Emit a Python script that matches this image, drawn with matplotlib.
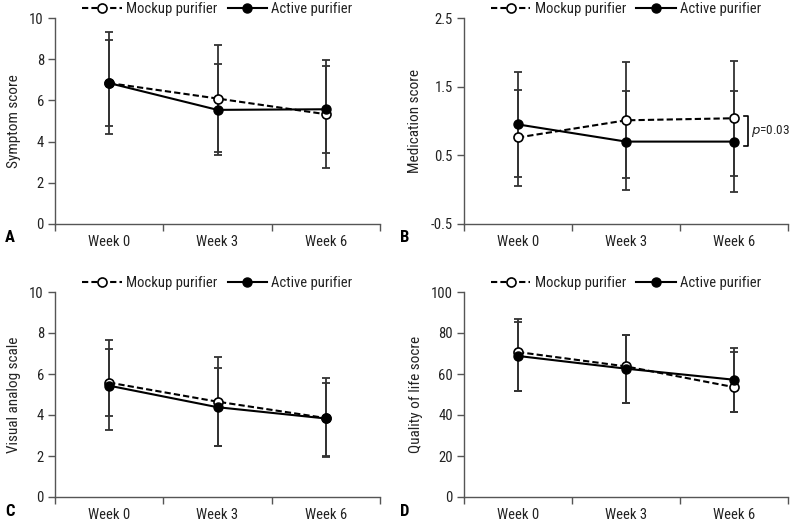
import matplotlib
matplotlib.use("Agg")
import matplotlib.pyplot as plt
from matplotlib import font_manager as fm

# pick a narrow font if one is installed
fam = "DejaVu Sans"
for f in ["Liberation Sans Narrow", "Roboto Condensed", "Open Sans Condensed", "Liberation Sans"]:
    try:
        fm.findfont(f, fallback_to_default=False)
        fam = f
        break
    except Exception:
        pass
plt.rcParams["font.family"] = [fam, "DejaVu Sans"]

weeks = ["Week 0", "Week 3", "Week 6"]

# A - symptom score
A_mock = [6.84, 6.09, 5.33]
A_mock_lo = [4.38, 3.51, 2.72]
A_mock_hi = [9.30, 8.67, 7.97]
A_act = [6.84, 5.54, 5.57]
A_act_lo = [4.76, 3.37, 3.47]
A_act_hi = [8.95, 7.76, 7.65]

# B - medication score
B_mock = [0.76, 1.01, 1.04]
B_mock_lo = [0.06, 0.17, 0.20]
B_mock_hi = [1.45, 1.86, 1.88]
B_act = [0.95, 0.70, 0.70]
B_act_lo = [0.18, -0.01, -0.03]
B_act_hi = [1.72, 1.43, 1.43]

# C - visual analog scale
C_mock = [5.58, 4.65, 3.85]
C_mock_lo = [3.97, 2.50, 1.94]
C_mock_hi = [7.20, 6.84, 5.80]
C_act = [5.43, 4.38, 3.83]
C_act_lo = [3.27, 2.50, 2.01]
C_act_hi = [7.65, 6.27, 5.58]

# D - quality of life
D_mock = [70.7, 63.7, 53.6]
D_mock_lo = [51.5, 46.0, 41.5]
D_mock_hi = [87.0, 79.2, 70.5]
D_act = [68.8, 62.6, 57.2]
D_act_lo = [51.5, 46.0, 41.5]
D_act_hi = [85.4, 79.2, 72.7]

panels = [
    ("A", "Symptom score", [0, 2, 4, 6, 8, 10], (A_mock, A_mock_lo, A_mock_hi), (A_act, A_act_lo, A_act_hi)),
    ("B", "Medication score", [-0.5, 0.5, 1.5, 2.5], (B_mock, B_mock_lo, B_mock_hi), (B_act, B_act_lo, B_act_hi)),
    ("C", "Visual analog scale", [0, 2, 4, 6, 8, 10], (C_mock, C_mock_lo, C_mock_hi), (C_act, C_act_lo, C_act_hi)),
    ("D", "Quality of life socre", [0, 20, 40, 60, 80, 100], (D_mock, D_mock_lo, D_mock_hi), (D_act, D_act_lo, D_act_hi)),
]

W, H = 792, 521
fig = plt.figure(figsize=(W / 100, H / 100), dpi=100)

# axes boxes in pixels: left, top, right, bottom
boxes = [(55, 18, 380, 224), (464, 18, 788, 224), (55, 292, 380, 497), (464, 292, 788, 497)]
letter_x = [5, 400, 5, 400]

txt = "#222222"
spine_c = "#555555"
x = range(len(weeks))

for (letter, ylab, yt, mock, act), (l, t, r, b), lx in zip(panels, boxes, letter_x):
    ax = fig.add_axes([l / W, 1 - b / H, (r - l) / W, (b - t) / H])
    for s, lo, hi in [mock, act]:
        err = [[m - v for m, v in zip(s, lo)], [v - m for m, v in zip(s, hi)]]
        ax.errorbar(x, s, yerr=err, fmt="none", ecolor="#333333", elinewidth=1.3, capsize=3, capthick=1.3)
    ax.plot(x, mock[0], ls=(0, (3, 1.5)), color="black", lw=1.5, marker="o", ms=6.5,
            mfc="white", mec="black", mew=1.2, label="Mockup purifier", zorder=3)
    ax.plot(x, act[0], ls="-", color="black", lw=1.5, marker="o", ms=6.5,
            mfc="black", mec="black", label="Active purifier", zorder=4)

    ax.set_xlim(-0.5, 2.5)
    ax.set_ylim(yt[0], yt[-1])
    ax.set_yticks(yt)
    ax.set_yticklabels([("%g" % v) for v in yt])
    ax.set_xticks(list(x))
    ax.set_xticklabels(weeks)
    ax.set_xticks([-0.5, 0.5, 1.5, 2.5], minor=True)
    ax.tick_params(axis="x", which="major", length=0, pad=8, labelsize=10.5, colors=txt)
    ax.tick_params(axis="x", which="minor", length=5, width=1, color=spine_c)
    ax.tick_params(axis="y", length=5, width=1, color=spine_c, labelsize=10.5, labelcolor=txt, pad=3)
    for sp in ["top", "right"]:
        ax.spines[sp].set_visible(False)
    for sp in ["left", "bottom"]:
        ax.spines[sp].set_color(spine_c)
        ax.spines[sp].set_linewidth(1)
    ax.set_ylabel(ylab, fontsize=11, color=txt, labelpad=6)

    ax.legend(loc="center", bbox_to_anchor=(0.5, 1 + 8.5 / (b - t)), ncol=2, frameon=False,
              fontsize=10.5, handlelength=2.7, columnspacing=0.7, handletextpad=0.3,
              borderaxespad=0, borderpad=0, labelcolor=txt)

    fig.text(lx / W, 1 - (b + 14) / H, letter, fontsize=12, fontweight="bold", va="center", ha="left", color="black")

    if letter == "B":
        top = mock[0][2] + 0.03
        bot = act[0][2] - 0.06
        ax.plot([2.09, 2.13, 2.13, 2.09], [top, top, bot, bot], color="black", lw=1.2, clip_on=False)
        ax.text(2.16, (top + bot) / 2, "$\\it{p}$=0.03", fontsize=9.5, va="center", ha="left", color=txt)

fig.savefig("out.png", dpi=100)
